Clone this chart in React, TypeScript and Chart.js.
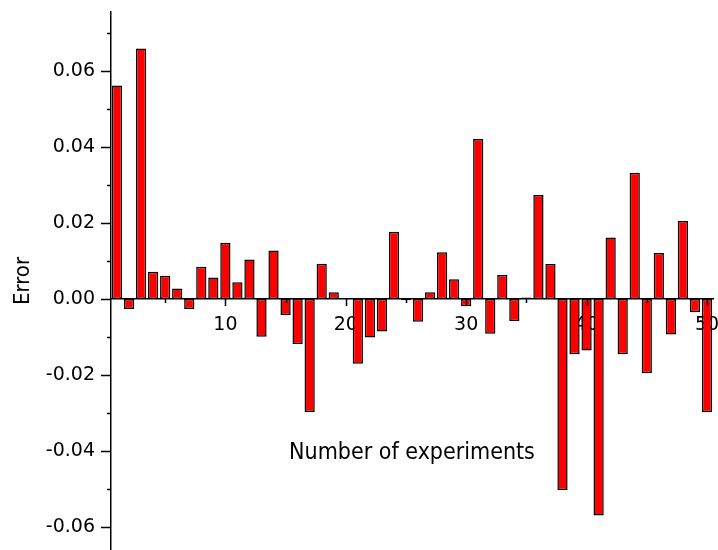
import React, { useEffect, useRef } from "react";
import { Chart, registerables } from "chart.js";

Chart.register(...registerables);

const experiments = [
  1, 2, 3, 4, 5, 6, 7, 8, 9, 10,
  11, 12, 13, 14, 15, 16, 17, 18, 19, 20,
  21, 22, 23, 24, 25, 26, 27, 28, 29, 30,
  31, 32, 33, 34, 35, 36, 37, 38, 39, 40,
  41, 42, 43, 44, 45, 46, 47, 48, 49, 50,
];

const errors = [
  0.0562, -0.0026, 0.0659, 0.0072, 0.0061, 0.0028, -0.0026, 0.0085, 0.0057, 0.0148,
  0.0044, 0.0104, -0.0099, 0.0128, -0.0042, -0.0118, -0.0297, 0.0093, 0.0018, 0.0003,
  -0.017, -0.0101, -0.0085, 0.0177, -0.0003, -0.006, 0.0018, 0.0123, 0.0052, -0.0019,
  0.0421, -0.0091, 0.0063, -0.0058, 0.0004, 0.0274, 0.0092, -0.0502, -0.0145, -0.0135,
  -0.0569, 0.0162, -0.0145, 0.0332, -0.0195, 0.0121, -0.0093, 0.0205, -0.0035, -0.0298,
];

const xMajorTicks = [10, 20, 30, 40, 50];
const xMinorTicks = [5, 15, 25, 35, 45];
const yMajorTicks = [-0.06, -0.04, -0.02, 0, 0.02, 0.04, 0.06];
const yMinorTicks = [-0.05, -0.03, -0.01, 0.01, 0.03, 0.05, 0.07];

const xRange = { min: 0.5, max: 50.5 };
const yRange = { min: -0.066, max: 0.0755 };

const yTitle = "Error";
const xTitle = "Number of experiments";
const xTitleAnchor = { x: 25.5, y: -0.0405 };

const TICK_FONT = "'DejaVu Sans', Verdana, sans-serif";
const TITLE_FONT = "'DejaVu Sans Condensed', 'Open Sans', sans-serif";

const tickMarksPlugin = {
  id: "tickMarks",
  afterDraw(chart: any) {
    const { ctx } = chart;
    const xs = chart.scales.x;
    const ys = chart.scales.y;
    const y0 = ys.getPixelForValue(0);
    const xLeft = chart.chartArea.left;
    ctx.save();
    ctx.strokeStyle = "#000";
    ctx.lineWidth = 1.5;
    ctx.beginPath();
    xMajorTicks.forEach((v) => {
      const px = Math.round(xs.getPixelForValue(v)) + 0.5;
      ctx.moveTo(px, y0);
      ctx.lineTo(px, y0 + 7);
    });
    xMinorTicks.forEach((v) => {
      const px = Math.round(xs.getPixelForValue(v)) + 0.5;
      ctx.moveTo(px, y0);
      ctx.lineTo(px, y0 + 4);
    });
    yMajorTicks.forEach((v) => {
      const py = Math.round(ys.getPixelForValue(v)) + 0.5;
      ctx.moveTo(xLeft, py);
      ctx.lineTo(xLeft - 10, py);
    });
    yMinorTicks.forEach((v) => {
      const py = Math.round(ys.getPixelForValue(v)) + 0.5;
      ctx.moveTo(xLeft, py);
      ctx.lineTo(xLeft - 4, py);
    });
    ctx.stroke();

    ctx.fillStyle = "#000";
    ctx.font = `23px ${TITLE_FONT}`;
    ctx.textAlign = "center";
    ctx.textBaseline = "middle";
    ctx.fillText(
      xTitle,
      xs.getPixelForValue(xTitleAnchor.x),
      ys.getPixelForValue(xTitleAnchor.y)
    );
    ctx.restore();
  },
};

const zeroPadding = (s: any) => {
  s.paddingTop = 0;
  s.paddingBottom = 0;
  s.paddingLeft = 0;
  s.paddingRight = 0;
};

export default function App() {
  const canvasRef = useRef<HTMLCanvasElement | null>(null);

  useEffect(() => {
    if (!canvasRef.current) return;
    const chart = new Chart(canvasRef.current, {
      type: "bar",
      data: {
        datasets: [
          {
            label: yTitle,
            data: experiments.map((x, i) => ({ x, y: errors[i] })),
            backgroundColor: "#ff0000",
            borderColor: "#000000",
            borderWidth: 1.5,
            borderSkipped: false,
            barPercentage: 0.85,
            categoryPercentage: 1,
          },
        ],
      },
      options: {
        responsive: false,
        animation: false,
        layout: { padding: { top: 12, right: 5, bottom: 0, left: 0 } },
        plugins: {
          legend: { display: false },
          tooltip: { enabled: false },
        },
        scales: {
          x: {
            type: "linear",
            min: xRange.min,
            max: xRange.max,
            offset: false,
            position: { y: 0 } as any,
            grid: { display: false, drawTicks: false, offset: false },
            border: { display: true, color: "#000", width: 1.5 },
            ticks: {
              color: "#000",
              font: { family: TICK_FONT, size: 19 },
              padding: 15,
              maxRotation: 0,
              autoSkip: false,
              callback: (v: any) => String(v),
            },
            afterBuildTicks: (s: any) => {
              s.ticks = xMajorTicks.map((v) => ({ value: v }));
            },
            afterFit: (s: any) => {
              s.height = 0;
              zeroPadding(s);
            },
          },
          y: {
            type: "linear",
            position: "left",
            min: yRange.min,
            max: yRange.max,
            grid: { display: false, drawTicks: false },
            border: { display: true, color: "#000", width: 1.5 },
            ticks: {
              color: "#000",
              font: { family: TICK_FONT, size: 19 },
              padding: 16,
              callback: (v: any) => Number(v).toFixed(2),
            },
            afterBuildTicks: (s: any) => {
              s.ticks = yMajorTicks.map((v) => ({ value: v }));
            },
            afterFit: (s: any) => {
              s.width = 111;
              zeroPadding(s);
            },
            title: {
              display: true,
              text: yTitle,
              color: "#000",
              font: { family: TITLE_FONT, size: 22, weight: "normal" },
              padding: { top: 10, bottom: 0 },
            },
          },
        },
      },
      plugins: [tickMarksPlugin],
    });
    return () => chart.destroy();
  }, []);

  return (
    <div style={{ position: "absolute", left: 0, top: 0, width: 718, height: 550, background: "#fff" }}>
      <canvas ref={canvasRef} width={718} height={550} />
    </div>
  );
}
